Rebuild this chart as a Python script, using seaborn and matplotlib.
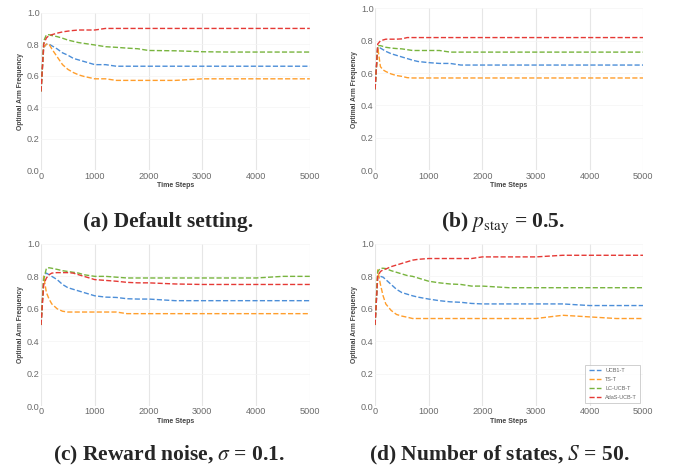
import numpy as np
import pandas as pd
import matplotlib
matplotlib.use("Agg")
import matplotlib.pyplot as plt
import seaborn as sns

# ---------------- data ----------------
time_steps = [0, 50, 100, 150, 200, 300, 400, 500, 600, 700, 800, 1000, 1200,
              1400, 1600, 1800, 2000, 2500, 3000, 3500, 4000, 4500, 5000]
methods = ["UCB1-T", "TS-T", "LC-UCB-T", "AdaS-UCB-T"]

# (a) Default setting
a_ucb1 = [0.50, 0.78, 0.80, 0.80, 0.79, 0.77, 0.745, 0.73, 0.71, 0.70, 0.69, 0.67, 0.67,
          0.66, 0.66, 0.66, 0.66, 0.66, 0.66, 0.66, 0.66, 0.66, 0.66]
a_ts = [0.50, 0.78, 0.80, 0.80, 0.77, 0.72, 0.67, 0.64, 0.62, 0.605, 0.595, 0.58, 0.58,
        0.57, 0.57, 0.57, 0.57, 0.57, 0.58, 0.58, 0.58, 0.58, 0.58]
a_lc = [0.50, 0.82, 0.86, 0.86, 0.855, 0.848, 0.838, 0.826, 0.818, 0.81, 0.805, 0.795, 0.784,
        0.78, 0.775, 0.771, 0.76, 0.758, 0.752, 0.75, 0.75, 0.75, 0.75]
a_adas = [0.50, 0.80, 0.84, 0.855, 0.86, 0.87, 0.878, 0.883, 0.887, 0.89, 0.89, 0.89, 0.90,
          0.90, 0.90, 0.90, 0.90, 0.90, 0.90, 0.90, 0.90, 0.90, 0.90]

# (b) p_stay = 0.5
b_ucb1 = [0.50, 0.76, 0.755, 0.745, 0.735, 0.72, 0.71, 0.70, 0.69, 0.68, 0.672, 0.665, 0.66,
          0.66, 0.65, 0.65, 0.65, 0.65, 0.65, 0.65, 0.65, 0.65, 0.65]
b_ts = [0.50, 0.76, 0.64, 0.62, 0.61, 0.595, 0.585, 0.58, 0.572, 0.57, 0.57, 0.57, 0.57,
        0.57, 0.57, 0.57, 0.57, 0.57, 0.57, 0.57, 0.57, 0.57, 0.57]
b_lc = [0.50, 0.77, 0.77, 0.765, 0.76, 0.755, 0.752, 0.75, 0.745, 0.74, 0.74, 0.74, 0.74,
        0.73, 0.73, 0.73, 0.73, 0.73, 0.73, 0.73, 0.73, 0.73, 0.73]
b_adas = [0.50, 0.78, 0.80, 0.805, 0.81, 0.81, 0.81, 0.812, 0.82, 0.82, 0.82, 0.82, 0.82,
          0.82, 0.82, 0.82, 0.82, 0.82, 0.82, 0.82, 0.82, 0.82, 0.82]

# (c) Reward noise, sigma = 0.1
c_ucb1 = [0.50, 0.80, 0.82, 0.81, 0.80, 0.78, 0.75, 0.73, 0.72, 0.71, 0.70, 0.68, 0.672,
          0.67, 0.662, 0.66, 0.66, 0.65, 0.65, 0.65, 0.65, 0.65, 0.65]
c_ts = [0.50, 0.80, 0.70, 0.66, 0.63, 0.60, 0.585, 0.58, 0.58, 0.58, 0.58, 0.58, 0.58,
        0.58, 0.57, 0.57, 0.57, 0.57, 0.57, 0.57, 0.57, 0.57, 0.57]
c_lc = [0.50, 0.78, 0.85, 0.853, 0.85, 0.843, 0.835, 0.83, 0.825, 0.82, 0.81, 0.80, 0.80,
        0.795, 0.79, 0.79, 0.79, 0.79, 0.79, 0.79, 0.79, 0.80, 0.80]
c_adas = [0.50, 0.75, 0.79, 0.81, 0.82, 0.823, 0.823, 0.823, 0.82, 0.81, 0.80, 0.78, 0.775,
          0.77, 0.763, 0.76, 0.76, 0.753, 0.75, 0.75, 0.75, 0.75, 0.75]

# (d) Number of states, S = 50
d_ucb1 = [0.50, 0.80, 0.80, 0.795, 0.78, 0.75, 0.72, 0.70, 0.69, 0.68, 0.672, 0.66, 0.65,
          0.643, 0.64, 0.633, 0.63, 0.63, 0.63, 0.63, 0.62, 0.62, 0.62]
d_ts = [0.50, 0.84, 0.75, 0.68, 0.63, 0.59, 0.565, 0.555, 0.548, 0.54, 0.54, 0.54, 0.54,
        0.54, 0.54, 0.54, 0.54, 0.54, 0.54, 0.56, 0.55, 0.54, 0.54]
d_lc = [0.50, 0.83, 0.85, 0.85, 0.848, 0.835, 0.825, 0.815, 0.805, 0.80, 0.79, 0.77, 0.76,
        0.753, 0.75, 0.74, 0.74, 0.73, 0.73, 0.73, 0.73, 0.73, 0.73]
d_adas = [0.50, 0.80, 0.83, 0.84, 0.845, 0.86, 0.87, 0.88, 0.89, 0.90, 0.905, 0.91, 0.91,
          0.91, 0.91, 0.91, 0.92, 0.92, 0.92, 0.93, 0.93, 0.93, 0.93]

captions = [
    r"(a) Default setting.",
    r"(b) $p_{\mathrm{stay}}$ = 0.5.",
    r"(c) Reward noise, $\sigma$ = 0.1.",
    r"(d) Number of states, $S$ = 50.",
]

panels = [
    (a_ucb1, a_ts, a_lc, a_adas),
    (b_ucb1, b_ts, b_lc, b_adas),
    (c_ucb1, c_ts, c_lc, c_adas),
    (d_ucb1, d_ts, d_lc, d_adas),
]

# ---------------- style ----------------
sns.set_theme(style="whitegrid")
plt.rcParams["font.family"] = ["Liberation Sans", "DejaVu Sans"]
plt.rcParams["mathtext.fontset"] = "stix"

palette = {"UCB1-T": "#4C8ED8", "TS-T": "#FF9E2C",
           "LC-UCB-T": "#78B43E", "AdaS-UCB-T": "#E53935"}

fig = plt.figure(figsize=(6.77, 4.70), dpi=100)

axes_pos = [
    [0.0606, 0.638, 0.397, 0.335],
    [0.554, 0.638, 0.396, 0.344],
    [0.0606, 0.136, 0.397, 0.345],
    [0.554, 0.136, 0.396, 0.345],
]
caption_pos = [(0.248, 0.527), (0.743, 0.527), (0.250, 0.031), (0.738, 0.031)]

for i, (vals, pos) in enumerate(zip(panels, axes_pos)):
    ax = fig.add_axes(pos)
    frames = []
    for m, v in zip(methods, vals):
        frames.append(pd.DataFrame({"Time Steps": time_steps,
                                    "Optimal Arm Frequency": v,
                                    "Method": m}))
    df = pd.concat(frames, ignore_index=True)
    sns.lineplot(data=df, x="Time Steps", y="Optimal Arm Frequency", hue="Method",
                 hue_order=methods, palette=palette, ax=ax, linewidth=1.0,
                 linestyle="--", legend=(i == 3))
    ax.set_xlim(0, 5000)
    ax.set_ylim(0, 1.0)
    ax.set_xticks([0, 1000, 2000, 3000, 4000, 5000])
    ax.set_yticks([0.0, 0.2, 0.4, 0.6, 0.8, 1.0])
    ax.set_yticklabels(["0.0", "0.2", "0.4", "0.6", "0.8", "1.0"])
    ax.tick_params(axis="both", labelsize=6.6, labelcolor="#6b6b6b", pad=1, length=0)
    ax.set_xlabel("Time Steps", fontsize=5, fontweight="bold", color="#444444", labelpad=1)
    ax.set_ylabel("Optimal Arm Frequency", fontsize=4.9, fontweight="bold",
                  color="#444444", labelpad=2)
    ax.grid(axis="x", color="#e6e6e6", linewidth=0.8)
    ax.grid(axis="y", color="#f4f4f4", linewidth=0.5)
    for s in ax.spines.values():
        s.set_visible(False)
    ax.set_facecolor("white")
    if i == 3:
        leg = ax.legend(loc="lower right", fontsize=4, frameon=True, fancybox=False,
                        handlelength=2.2, borderpad=0.6, labelspacing=0.7,
                        edgecolor="#bbbbbb", labelcolor="#666666")
        leg.get_frame().set_linewidth(0.6)
        for h in leg.get_lines():
            h.set_linestyle("--")
            h.set_linewidth(1.0)
    cx, cy = caption_pos[i]
    fig.text(cx, cy, captions[i], ha="center", va="center", fontsize=15.5,
             fontweight="bold", family=["Liberation Serif", "DejaVu Serif"])

fig.savefig("out.png", dpi=100)
